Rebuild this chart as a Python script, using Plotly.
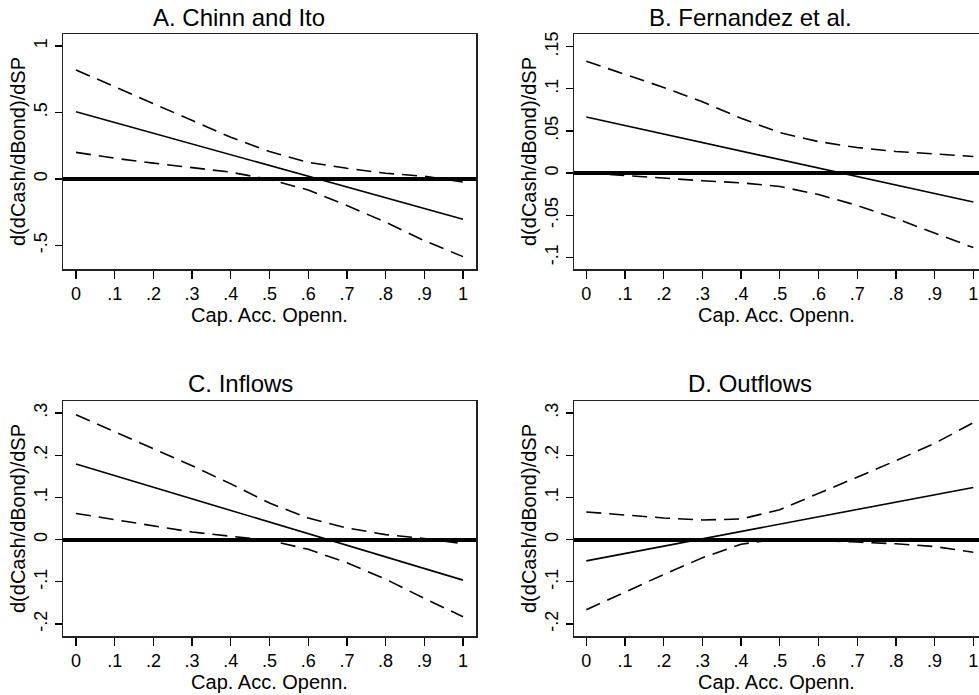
import plotly.graph_objects as go

# ---------------- data ----------------
x_vals = [0, .1, .2, .3, .4, .5, .6, .7, .8, .9, 1]
x_tickvals = [0, .1, .2, .3, .4, .5, .6, .7, .8, .9, 1]
x_ticktext = ["0", ".1", ".2", ".3", ".4", ".5", ".6", ".7", ".8", ".9", "1"]

a_est = [0.506, 0.425, 0.344, 0.263, 0.182, 0.101, 0.021, -0.060, -0.141, -0.222, -0.303]
a_upper = [0.820, 0.694, 0.569, 0.439, 0.313, 0.206, 0.125, 0.080, 0.043, 0.020, -0.022]
a_lower = [0.200, 0.156, 0.119, 0.087, 0.051, -0.004, -0.083, -0.200, -0.325, -0.464, -0.584]

b_est = [0.0665, 0.0564, 0.0463, 0.0363, 0.0262, 0.0161, 0.0060, -0.0040, -0.0141, -0.0242, -0.0343]
b_upper = [0.1327, 0.1170, 0.1016, 0.0846, 0.0650, 0.0480, 0.0374, 0.0303, 0.0256, 0.0228, 0.0197]
b_lower = [0.0003, -0.0030, -0.0060, -0.0090, -0.0115, -0.0158, -0.0254, -0.0383, -0.0538, -0.0712, -0.0883]

c_est = [0.179, 0.1515, 0.124, 0.0965, 0.069, 0.0415, 0.014, -0.0135, -0.041, -0.0685, -0.096]
c_upper = [0.296, 0.256, 0.2165, 0.175, 0.132, 0.0866, 0.051, 0.0276, 0.0118, 0.0024, -0.0094]
c_lower = [0.062, 0.047, 0.0315, 0.018, 0.008, -0.002, -0.023, -0.0546, -0.0938, -0.1394, -0.1826]

d_est = [-0.0504, -0.0330, -0.0157, 0.0017, 0.0190, 0.0364, 0.0537, 0.0711, 0.0885, 0.1058, 0.1236]
d_upper = [0.0654, 0.0575, 0.0512, 0.0465, 0.0488, 0.0709, 0.1087, 0.1480, 0.1870, 0.2280, 0.2770]
d_lower = [-0.1662, -0.1236, -0.0826, -0.0431, -0.0108, 0.0019, -0.0013, -0.0058, -0.0100, -0.0164, -0.0298]

titles = ["A. Chinn and Ito", "B. Fernandez et al.", "C. Inflows", "D. Outflows"]
x_title = "Cap. Acc. Openn."
y_title = "d(dCash/dBond)/dSP"

a_yticks = [-0.5, 0, 0.5, 1]
a_yticktext = ["-.5", "0", ".5", "1"]
b_yticks = [-0.1, -0.05, 0, 0.05, 0.1, 0.15]
b_yticktext = ["-.1", "-.05", "0", ".05", ".1", ".15"]
cd_yticks = [-0.2, -0.1, 0, 0.1, 0.2, 0.3]
cd_yticktext = ["-.2", "-.1", "0", ".1", ".2", ".3"]

# ---------------- layout geometry ----------------
W, H = 979, 695
FONT = "Liberation Sans, Arial, sans-serif"

def px_x(p):
    return p / W

def px_y(p):
    return 1 - p / H

panels = [
    dict(est=a_est, up=a_upper, lo=a_lower, xd=[px_x(63), px_x(476)], yd=[px_y(269), px_y(34)],
         xr=[-0.0336, 1.0336], yr=[-0.677, 1.090], yt=a_yticks, ytt=a_yticktext, right=False),
    dict(est=b_est, up=b_upper, lo=b_lower, xd=[px_x(574), 1.0], yd=[px_y(269), px_y(34)],
         xr=[-0.0318, 1.0147], yr=[-0.1137, 0.165], yt=b_yticks, ytt=b_yticktext, right=True),
    dict(est=c_est, up=c_upper, lo=c_lower, xd=[px_x(63), px_x(476)], yd=[px_y(636), px_y(401)],
         xr=[-0.0336, 1.0336], yr=[-0.2284, 0.3284], yt=cd_yticks, ytt=cd_yticktext, right=False),
    dict(est=d_est, up=d_upper, lo=d_lower, xd=[px_x(574), 1.0], yd=[px_y(636), px_y(401)],
         xr=[-0.0318, 1.0147], yr=[-0.2284, 0.3284], yt=cd_yticks, ytt=cd_yticktext, right=True),
]

fig = go.Figure()
layout = dict(
    width=W, height=H,
    margin=dict(l=0, r=0, t=0, b=0),
    paper_bgcolor="white", plot_bgcolor="white",
    showlegend=False,
    font=dict(family=FONT, color="black"),
)

for i, p in enumerate(panels):
    n = "" if i == 0 else str(i + 1)
    xa, ya = "x" + n, "y" + n
    for vals, dash in [(p["up"], "15px,8px"), (p["est"], "solid"), (p["lo"], "15px,8px")]:
        fig.add_trace(go.Scatter(x=x_vals, y=vals, xaxis=xa, yaxis=ya, mode="lines",
                                 line=dict(color="black", width=1.6, dash=dash),
                                 hoverinfo="skip"))
    layout["xaxis" + n] = dict(
        domain=p["xd"], range=p["xr"], anchor=ya,
        tickmode="array", tickvals=x_tickvals, ticktext=x_ticktext,
        ticks="outside", ticklen=8, tickwidth=1.3, tickcolor="black",
        showline=True, mirror=True, linecolor="#222", linewidth=1.5,
        showgrid=False, zeroline=False,
        tickfont=dict(size=18, family=FONT),
        title=dict(text=x_title, font=dict(size=20, family=FONT), standoff=0),
        automargin=False,
    )
    layout["yaxis" + n] = dict(
        domain=p["yd"], range=p["yr"], anchor=xa,
        tickmode="array", tickvals=p["yt"], ticktext=p["ytt"], tickangle=-90,
        ticks="outside", ticklen=7, tickwidth=1.3, tickcolor="black",
        showline=True, mirror=(not p["right"]), linecolor="#222", linewidth=1.5,
        showgrid=False, zeroline=True, zerolinecolor="black", zerolinewidth=4,
        tickfont=dict(size=18, family=FONT),
        title=dict(text=y_title, font=dict(size=20, family=FONT), standoff=0),
        automargin=False,
    )

title_pos = [(239, 17), (750, 17), (240, 383), (750, 383)]
layout["annotations"] = [
    dict(text=t, x=px_x(cx), y=px_y(cy), xref="paper", yref="paper",
         xanchor="center", yanchor="middle", showarrow=False,
         font=dict(size=24, family=FONT, color="black"))
    for t, (cx, cy) in zip(titles, title_pos)
]

fig.update_layout(**layout)
fig.write_html("out.html", config={"displayModeBar": False, "staticPlot": True},
               post_script="document.body.style.margin='0';document.body.style.overflow='hidden';")
